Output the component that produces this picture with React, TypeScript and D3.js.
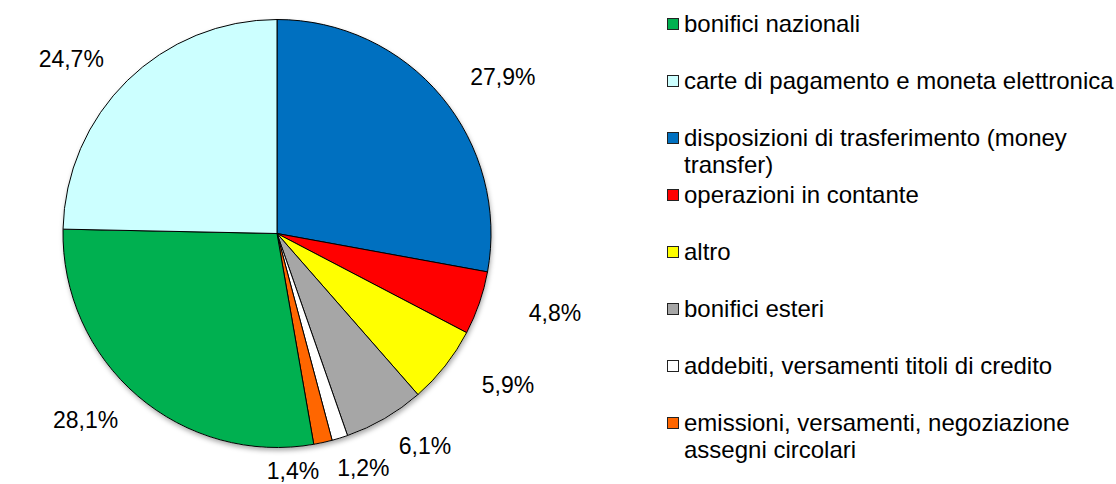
import React from "react";
import * as d3 from "d3";

const categories = [
  "bonifici nazionali",
  "carte di pagamento e moneta elettronica",
  "disposizioni di trasferimento (money transfer)",
  "operazioni in contante",
  "altro",
  "bonifici esteri",
  "addebiti, versamenti titoli di credito",
  "emissioni, versamenti, negoziazione assegni circolari",
];
const values = [28.1, 24.7, 27.9, 4.8, 5.9, 6.1, 1.2, 1.4];
const colors = ["#00B050", "#CCFFFF", "#0070C0", "#FF0000", "#FFFF00", "#A6A6A6", "#FFFFFF", "#FF6600"];
// pie drawing order (clockwise from 12 o'clock), as indices into categories
const pieOrder = [2, 3, 4, 5, 6, 7, 0, 1];

const W = 1116;
const H = 484;
const FONT = "Liberation Sans, Arial, sans-serif";

function measure(text: string, size: number): number {
  const c = document.createElement("canvas");
  const ctx = c.getContext("2d");
  if (!ctx) return text.length * size * 0.5;
  ctx.font = `${size}px "Liberation Sans", Arial, sans-serif`;
  return ctx.measureText(text).width;
}

function wrap(text: string, maxW: number, size: number): string[] {
  const words = text.split(" ");
  const lines: string[] = [];
  let cur = "";
  for (const w of words) {
    const t = cur ? cur + " " + w : w;
    if (cur && measure(t, size) > maxW) {
      lines.push(cur);
      cur = w;
    } else cur = t;
  }
  if (cur) lines.push(cur);
  return lines;
}

function fmt(v: number) {
  return v.toFixed(1).replace(".", ",") + "%";
}

export default function App() {
  const cx = 277;
  const cy = 233.5;
  const r = 214;

  const ordered = pieOrder.map((i) => ({ i, v: values[i] }));
  const pie = d3.pie<{ i: number; v: number }>().sort(null).value((d) => d.v);
  const arcs = pie(ordered);
  const arcGen = d3.arc<d3.PieArcDatum<{ i: number; v: number }>>().innerRadius(0).outerRadius(r);

  // data labels
  const A = 294;
  const B = 245;
  const labelSize = 23;
  const labels = arcs.map((a) => {
    const mid = (a.startAngle + a.endAngle) / 2;
    const text = fmt(a.data.v);
    const w = measure(text, labelSize);
    let y = cy - B * Math.cos(mid);
    y = Math.min(y, H - 13);
    return { text, x: cx + A * Math.sin(mid), y, w, mid };
  });
  for (let k = 1; k < labels.length; k++) {
    const p = labels[k - 1];
    const c = labels[k];
    if (Math.abs(p.y - c.y) < 22) {
      const need = (p.w + c.w) / 2 + 18;
      const dir = Math.cos(c.mid) < 0 ? -1 : 1; // bottom half moves left
      if (dir < 0 && p.x - c.x < need) c.x = p.x - need;
      if (dir > 0 && c.x - p.x < need) c.x = p.x + need;
    }
  }

  // legend
  const legSize = 24;
  const legX = 667;
  const legTextX = 684;
  const legY0 = 31.7;
  const legStep = 57;
  const lineH = 27.3;
  const maxW = W - legTextX;

  return (
    <svg
      width={W}
      height={H}
      style={{ position: "absolute", left: 0, top: 0, background: "#fff" }}
      fontFamily={FONT}
    >
      <defs>
        <filter id="sh" x="-20%" y="-20%" width="140%" height="140%">
          <feDropShadow dx="1" dy="3" stdDeviation="2.5" floodColor="#000" floodOpacity="0.35" />
        </filter>
      </defs>
      <rect x={0} y={0} width={W} height={H} fill="#fff" />
      <g transform={`translate(${cx},${cy})`}>
        <circle r={r} fill="#fff" filter="url(#sh)" />
        {arcs.map((a, k) => (
          <path
            key={k}
            d={arcGen(a) || ""}
            fill={colors[a.data.i]}
            stroke="#000"
            strokeWidth={1}
            strokeLinejoin="round"
          />
        ))}
      </g>
      {labels.map((l, k) => (
        <text
          key={k}
          x={l.x}
          y={l.y + labelSize * 0.36}
          textAnchor="middle"
          fontSize={labelSize}
          fill="#000"
        >
          {l.text}
        </text>
      ))}
      {categories.map((name, i) => {
        const lines = wrap(name, maxW, legSize);
        const by = legY0 + i * legStep;
        return (
          <g key={name}>
            <rect
              x={legX + 0.5}
              y={by - 13.2}
              width={11}
              height={11}
              fill={colors[i]}
              stroke="#222"
              strokeWidth={1}
            />
            <text x={legTextX} y={by} fontSize={legSize} fill="#000">
              {lines.map((ln, j) => (
                <tspan key={j} x={legTextX} y={by + j * lineH}>
                  {ln}
                </tspan>
              ))}
            </text>
          </g>
        );
      })}
    </svg>
  );
}
